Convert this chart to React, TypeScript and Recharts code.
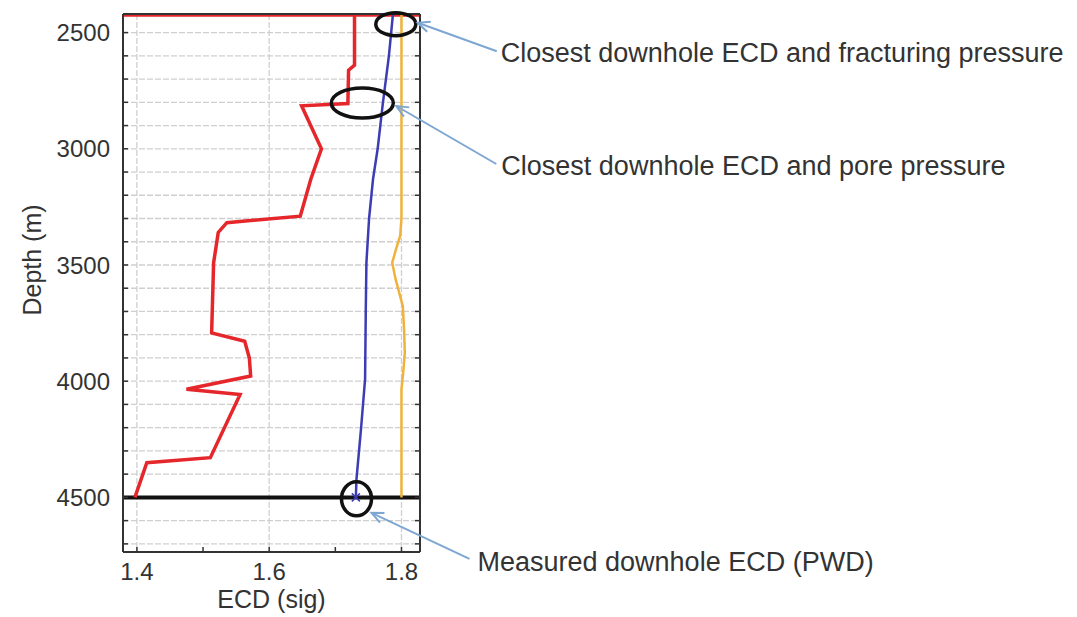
import {
  ScatterChart, Scatter,
  XAxis, YAxis, CartesianGrid,
  ReferenceLine, ReferenceDot,
} from 'recharts'

// axis ticks
const depthTicks = [2500, 2600, 2700, 2800, 2900, 3000, 3100, 3200, 3300, 3400, 3500, 3600, 3700, 3800, 3900, 4000, 4100, 4200, 4300, 4400, 4500, 4600, 4700]
const depthLabels = [2500, 3000, 3500, 4000, 4500]
const ecdTicks = [1.4, 1.5, 1.6, 1.7, 1.8]
const ecdLabels = [1.4, 1.6, 1.8]
const ecdGrid = [1.4, 1.6, 1.8]

// red curve (mud weight / ECD profile)
const redDepth = [2424, 2640, 2662, 2805, 2815, 3000, 3130, 3290, 3318, 3360, 3490, 3792, 3828, 3900, 3978, 4035, 4057, 4329, 4351, 4500]
const redEcd = [1.729, 1.729, 1.72, 1.719, 1.649, 1.679, 1.663, 1.647, 1.536, 1.523, 1.516, 1.513, 1.563, 1.57, 1.572, 1.475, 1.556, 1.511, 1.415, 1.397]

// blue curve (downhole ECD)
const blueDepth = [2424, 2600, 2800, 3000, 3130, 3300, 3490, 3700, 3990, 4200, 4420, 4500]
const blueEcd = [1.787, 1.781, 1.772, 1.764, 1.757, 1.751, 1.747, 1.746, 1.745, 1.739, 1.732, 1.731]

// orange curve
const orangeDepth = [2424, 3000, 3300, 3375, 3430, 3490, 3560, 3677, 3780, 3877, 3950, 4035, 4300, 4500]
const orangeEcd = [1.8, 1.8, 1.8, 1.798, 1.792, 1.786, 1.791, 1.802, 1.804, 1.805, 1.803, 1.8, 1.8, 1.8]

// measured PWD point
const pwdDepth = [4500]
const pwdEcd = [1.731]

const topLineDepth = 2424
const bitDepth = 4500

// callouts
const calloutEcd = [1.7914, 1.7408, 1.732]
const calloutDepth = [2464, 2803, 4506]
const calloutText = [
  'Closest downhole ECD and fracturing pressure',
  'Closest downhole ECD and pore pressure',
  'Measured downhole ECD (PWD)',
]

// pixel styling for callouts (ellipse radii, arrow tip/tail offsets, text offset)
const CALLOUT_STYLE = [
  { rx: 20, ry: 11.5, tip: [22, -1.5], tail: [101, 27], txt: [4, 11] },
  { rx: 31, ry: 15, tip: [34, 3], tail: [134, 61], txt: [5, 11] },
  { rx: 15, ry: 17, tip: [15, 14], tail: [113, 60], txt: [8, 12] },
]

const toPts = (depth: number[], ecd: number[]) => depth.map((d, i) => ({ depth: d, ecd: ecd[i] }))

const redData = toPts(redDepth, redEcd)
const blueData = toPts(blueDepth, blueEcd)
const orangeData = toPts(orangeDepth, orangeEcd)
const pwdData = toPts(pwdDepth, pwdEcd)

const TEXT = '#333'
const ARROW = '#7ea6d3'

function Callout(props: any) {
  const { cx, cy, style, text } = props
  if (cx == null || cy == null) return null
  const tx = cx + style.tip[0]
  const ty = cy + style.tip[1]
  const lx = cx + style.tail[0]
  const ly = cy + style.tail[1]
  const ang = Math.atan2(ly - ty, lx - tx)
  const head = 13
  const spread = 0.42
  const h1x = tx + head * Math.cos(ang - spread)
  const h1y = ty + head * Math.sin(ang - spread)
  const h2x = tx + head * Math.cos(ang + spread)
  const h2y = ty + head * Math.sin(ang + spread)
  return (
    <g>
      <ellipse cx={cx} cy={cy} rx={style.rx} ry={style.ry} fill="none" stroke="#111" strokeWidth={3.5} />
      <line x1={lx} y1={ly} x2={tx} y2={ty} stroke={ARROW} strokeWidth={2} />
      <polyline points={`${h1x},${h1y} ${tx},${ty} ${h2x},${h2y}`} fill="none" stroke={ARROW} strokeWidth={2} />
      <text x={lx + style.txt[0]} y={ly + style.txt[1]} fontSize={27} fill={TEXT}>{text}</text>
    </g>
  )
}

const noDot = () => <g />

const pwdMark = (p: any) => (
  <g stroke="#3c3cb4" strokeWidth={1.5}>
    <line x1={p.cx - 4} y1={p.cy - 4} x2={p.cx + 4} y2={p.cy + 4} />
    <line x1={p.cx - 4} y1={p.cy + 4} x2={p.cx + 4} y2={p.cy - 4} />
  </g>
)

export default function App() {
  return (
    <div style={{ position: 'absolute', left: 0, top: 0, width: 1077, height: 617, background: '#fff', fontFamily: '"Liberation Sans", Arial, sans-serif' }}>
      <ScatterChart width={1077} height={617} margin={{ top: 10, right: 647, bottom: 5, left: 23 }}>
        <CartesianGrid xAxisId="top" stroke="#cfcfcf" strokeWidth={1.3} strokeDasharray="6 2" />
        <XAxis
          xAxisId="top"
          orientation="top"
          type="number"
          dataKey="ecd"
          domain={[1.379, 1.828]}
          allowDataOverflow
          ticks={ecdGrid}
          interval={0}
          height={4}
          tick={{ fontSize: 0, fill: 'none' }}
          tickFormatter={() => ''}
          tickLine={false}
          axisLine={{ stroke: '#333', strokeWidth: 2 }}
        />
        <XAxis
          type="number"
          dataKey="ecd"
          domain={[1.379, 1.828]}
          allowDataOverflow
          ticks={ecdTicks}
          interval={0}
          height={60}
          tickSize={-5}
          tickMargin={16}
          tickFormatter={(v: number) => (ecdLabels.includes(v) ? v.toFixed(1) : '')}
          tick={{ fill: TEXT, fontSize: 24 }}
          tickLine={{ stroke: '#333', strokeWidth: 1.5 }}
          axisLine={{ stroke: '#333', strokeWidth: 2 }}
          label={{ value: 'ECD (sig)', position: 'insideBottom', offset: 4, fontSize: 25, fill: TEXT }}
        />
        <YAxis
          type="number"
          dataKey="depth"
          domain={[2420, 4735]}
          reversed
          allowDataOverflow
          ticks={depthTicks}
          interval={0}
          width={100}
          tickSize={-5}
          tickMargin={18}
          tickFormatter={(v: number) => (depthLabels.includes(v) ? String(v) : '')}
          tick={{ fill: TEXT, fontSize: 24 }}
          tickLine={{ stroke: '#333', strokeWidth: 1.5 }}
          axisLine={{ stroke: '#333', strokeWidth: 2 }}
          label={{
            content: (p: any) => {
              const vb = p.viewBox || { x: 23, y: 14, height: 538 }
              const x = vb.x + 18
              const y = vb.y + vb.height / 2 - 23
              return (
                <text x={x} y={y} transform={`rotate(-90 ${x} ${y})`} textAnchor="middle" fontSize={25} fill={TEXT}>
                  Depth (m)
                </text>
              )
            },
          }}
        />
        <YAxis
          yAxisId="right"
          orientation="right"
          type="number"
          domain={[2420, 4735]}
          reversed
          allowDataOverflow
          ticks={depthTicks}
          interval={0}
          width={10}
          tickSize={-5}
          tickFormatter={() => ''}
          tickLine={{ stroke: '#333', strokeWidth: 1.5 }}
          axisLine={{ stroke: '#333', strokeWidth: 2 }}
        />
        <Scatter
          data={orangeData}
          line={{ stroke: '#f0b23c', strokeWidth: 2.5 }}
          lineType="joint"
          shape={noDot}
          isAnimationActive={false}
        />
        <Scatter
          data={blueData}
          line={{ stroke: '#3c3cb4', strokeWidth: 2.5 }}
          lineType="joint"
          shape={noDot}
          isAnimationActive={false}
        />
        <Scatter
          data={redData}
          line={{ stroke: '#e5262b', strokeWidth: 3.5 }}
          lineType="joint"
          shape={noDot}
          isAnimationActive={false}
        />
        <Scatter data={pwdData} shape={pwdMark} isAnimationActive={false} />
        <ReferenceLine y={topLineDepth} stroke="#e5262b" strokeWidth={3.5} />
        <ReferenceLine y={bitDepth} stroke="#111" strokeWidth={4} />
        {calloutText.map((t, i) => (
          <ReferenceDot
            key={t}
            x={calloutEcd[i]}
            y={calloutDepth[i]}
            r={1}
            shape={(p: any) => <Callout {...p} style={CALLOUT_STYLE[i]} text={t} />}
          />
        ))}
      </ScatterChart>
    </div>
  )
}
